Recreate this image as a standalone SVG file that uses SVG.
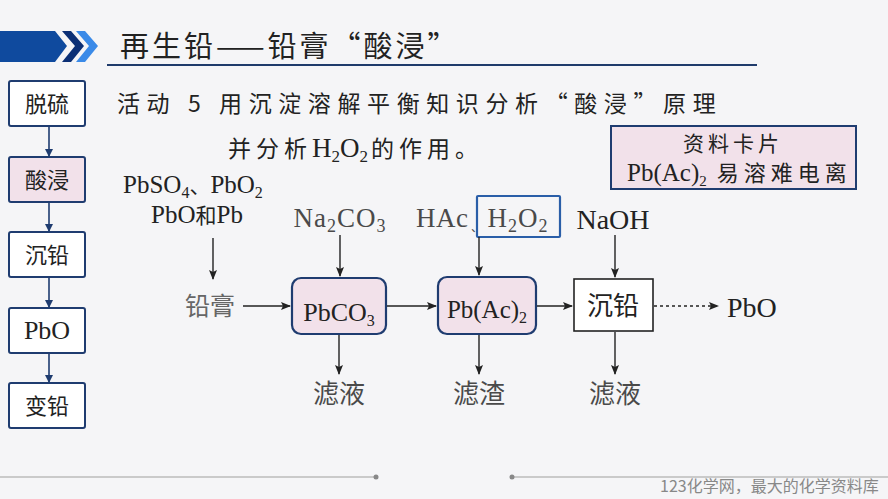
<svg xmlns="http://www.w3.org/2000/svg" width="888" height="499" viewBox="0 0 888 499">
<defs>
<style>
.cn{font-family:"Noto Sans CJK SC","Noto Sans",sans-serif;}
.sr{font-family:"Liberation Serif","Noto Sans CJK SC",serif;}
.side{fill:#fff;stroke:#1f3c70;stroke-width:2;}
.pink{fill:#f2e1ea;stroke:#1f3c70;stroke-width:2.2;}
.ln{stroke:#222;stroke-width:1.4;fill:none;}
.bl{stroke:#1f3c70;stroke-width:1.6;fill:none;}
.t{fill:#222;}
.g{fill:#4a4a4a;}
.lg{fill:#666;}
</style>
<marker id="ah" markerWidth="10" markerHeight="8" refX="9" refY="4" orient="auto" markerUnits="userSpaceOnUse">
<path d="M0,0 L10,4 L0,8 L2,4 Z" fill="#222"/>
</marker>
<marker id="ab" markerWidth="8" markerHeight="8" refX="7" refY="4" orient="auto" markerUnits="userSpaceOnUse">
<path d="M0,0 L8,4 L0,8 Z" fill="#1f3c70"/>
</marker>
</defs>
<rect width="888" height="499" fill="#f5f5f7"/>

<g id="banner">
<path d="M0,31 L55,31 L67,46 L55,62 L0,62 Z" fill="#0f4a9e"/>
<path d="M62,31 L71,31 L84,46 L71,62 L62,62 L75,46 Z" fill="#0b2f75"/>
<path d="M76,31 L85,31 L98,46 L85,62 L76,62 L89,46 Z" fill="#3a8ae8"/>
<text class="cn t" x="120" y="57" font-size="29" letter-spacing="3">再生铅——铅膏“酸浸”</text>
<line x1="107" y1="65" x2="757" y2="65" stroke="#1f3b6b" stroke-width="2"/>
</g>

<g id="side-nodes">
<g id="s1"><rect class="side" x="9" y="81" width="76" height="45" rx="2"/><text class="cn t" x="47" y="112" font-size="22" text-anchor="middle">脱硫</text></g>
<g id="s2"><rect class="side" x="9" y="157" width="76" height="45" rx="2" style="fill:#f2e1ea"/><text class="cn t" x="47" y="188" font-size="22" text-anchor="middle">酸浸</text></g>
<g id="s3"><rect class="side" x="9" y="232" width="76" height="45" rx="2"/><text class="cn t" x="47" y="263" font-size="22" text-anchor="middle">沉铅</text></g>
<g id="s4"><rect class="side" x="9" y="308" width="76" height="45" rx="2"/><text class="sr t" x="47" y="339" font-size="26" text-anchor="middle">PbO</text></g>
<g id="s5"><rect class="side" x="9" y="383" width="76" height="45" rx="2"/><text class="cn t" x="47" y="414" font-size="22" text-anchor="middle">变铅</text></g>
</g>

<g id="side-connectors">
<line class="bl" x1="49" y1="127" x2="49" y2="156" marker-end="url(#ab)"/>
<line class="bl" x1="49" y1="203" x2="49" y2="231" marker-end="url(#ab)"/>
<line class="bl" x1="49" y1="278" x2="49" y2="307" marker-end="url(#ab)"/>
<line class="bl" x1="49" y1="354" x2="49" y2="382" marker-end="url(#ab)"/>
</g>

<g id="heading">
<text class="cn t" x="117" y="112" font-size="23" letter-spacing="6.6">活动 5 用沉淀溶解平衡知识分析“酸浸”原理</text>
<text class="cn t" x="228" y="157" font-size="23" letter-spacing="5">并分析<tspan class="sr" font-size="27" letter-spacing="0">H<tspan font-size="17" dy="5">2</tspan><tspan dy="-5">O</tspan><tspan font-size="17" dy="5">2</tspan></tspan><tspan dy="-5" dx="3">的作用。</tspan></text>
</g>

<g id="card">
<rect x="611" y="126" width="245" height="63" fill="#f2e1ea" stroke="#1f3c70" stroke-width="2"/>
<text class="cn t" x="733" y="151" font-size="21" text-anchor="middle" letter-spacing="4">资料卡片</text>
<text class="t" x="627" y="181" font-size="22"><tspan class="sr" font-size="25">Pb(Ac)<tspan font-size="15" dy="5">2</tspan></tspan><tspan class="cn" dy="-5" letter-spacing="5"> 易溶难电离</tspan></text>
</g>

<g id="inputs">
<text class="sr t" x="123" y="193" font-size="25">PbSO<tspan font-size="16" dy="5">4</tspan><tspan class="cn" dy="-5" font-size="21">、</tspan>PbO<tspan font-size="16" dy="5">2</tspan></text>
<text class="sr t" x="197" y="223" font-size="25" text-anchor="middle">PbO<tspan class="cn" font-size="21">和</tspan>Pb</text>
<text class="cn lg" x="210" y="315" font-size="25" text-anchor="middle">铅膏</text>
<text class="sr g" x="340" y="227" font-size="27" text-anchor="middle" letter-spacing="1">Na<tspan font-size="18" dy="5">2</tspan><tspan dy="-5">CO</tspan><tspan font-size="18" dy="5">3</tspan></text>
<text class="sr g" x="416" y="227" font-size="27" letter-spacing="0.5">HAc</text>
<text class="cn g" x="471" y="232" font-size="12">、</text>
<text class="sr t" x="613" y="229" font-size="28" text-anchor="middle">NaOH</text>
<text class="sr t" x="727" y="317" font-size="28">PbO</text>
</g>

<g id="h2o2">
<rect x="477" y="196" width="83" height="41" fill="none" stroke="#2a5ea8" stroke-width="2.2" rx="1"/>
<text class="sr g" x="518" y="227" font-size="27" text-anchor="middle" letter-spacing="1">H<tspan font-size="18" dy="5">2</tspan><tspan dy="-5">O</tspan><tspan font-size="18" dy="5">2</tspan></text>
</g>

<g id="pbco3">
<rect class="pink" x="292" y="278" width="94" height="56" rx="9"/>
<text class="sr t" x="339" y="321" font-size="26" text-anchor="middle">PbCO<tspan font-size="16" dy="5">3</tspan></text>
</g>
<g id="pbac2">
<rect class="pink" x="438" y="277" width="98" height="57" rx="9"/>
<text class="sr t" x="487" y="318" font-size="25" text-anchor="middle">Pb(Ac)<tspan font-size="16" dy="5">2</tspan></text>
</g>
<g id="chenqian">
<rect x="574" y="279" width="79" height="52" fill="#fff" stroke="#222" stroke-width="1.6"/>
<text class="cn t" x="613" y="315" font-size="26" text-anchor="middle">沉铅</text>
</g>

<g id="outputs">
<text class="cn g" x="339" y="403" font-size="26" text-anchor="middle">滤液</text>
<text class="cn g" x="479" y="403" font-size="26" text-anchor="middle">滤渣</text>
<text class="cn g" x="615" y="403" font-size="26" text-anchor="middle">滤液</text>
</g>

<g id="connectors">
<line class="ln" x1="213" y1="238" x2="213" y2="279" marker-end="url(#ah)"/>
<line class="ln" x1="243" y1="306" x2="290" y2="306" marker-end="url(#ah)"/>
<line class="ln" x1="340" y1="235" x2="340" y2="276" marker-end="url(#ah)"/>
<line class="ln" x1="387" y1="306" x2="436" y2="306" marker-end="url(#ah)"/>
<line class="ln" x1="479" y1="237" x2="479" y2="275" marker-end="url(#ah)"/>
<line class="ln" x1="537" y1="306" x2="572" y2="306" marker-end="url(#ah)"/>
<line class="ln" x1="615" y1="235" x2="615" y2="277" marker-end="url(#ah)"/>
<line class="ln" x1="654" y1="306" x2="718" y2="306" stroke-dasharray="3,3" marker-end="url(#ah)"/>
<line class="ln" x1="339" y1="335" x2="339" y2="374" marker-end="url(#ah)"/>
<line class="ln" x1="479" y1="335" x2="479" y2="374" marker-end="url(#ah)"/>
<line class="ln" x1="615" y1="332" x2="615" y2="374" marker-end="url(#ah)"/>
</g>

<g id="footer">
<line x1="0" y1="477" x2="376" y2="477" stroke="#bbb" stroke-width="1.5"/>
<circle cx="376" cy="477" r="2.5" fill="#888"/>
<line x1="512" y1="477" x2="888" y2="477" stroke="#bbb" stroke-width="1.5"/>
<circle cx="512" cy="477" r="2.5" fill="#888"/>
<text class="cn" x="660" y="492" font-size="16" fill="#888">123化学网，最大的化学资料库</text>
</g>
</svg>
